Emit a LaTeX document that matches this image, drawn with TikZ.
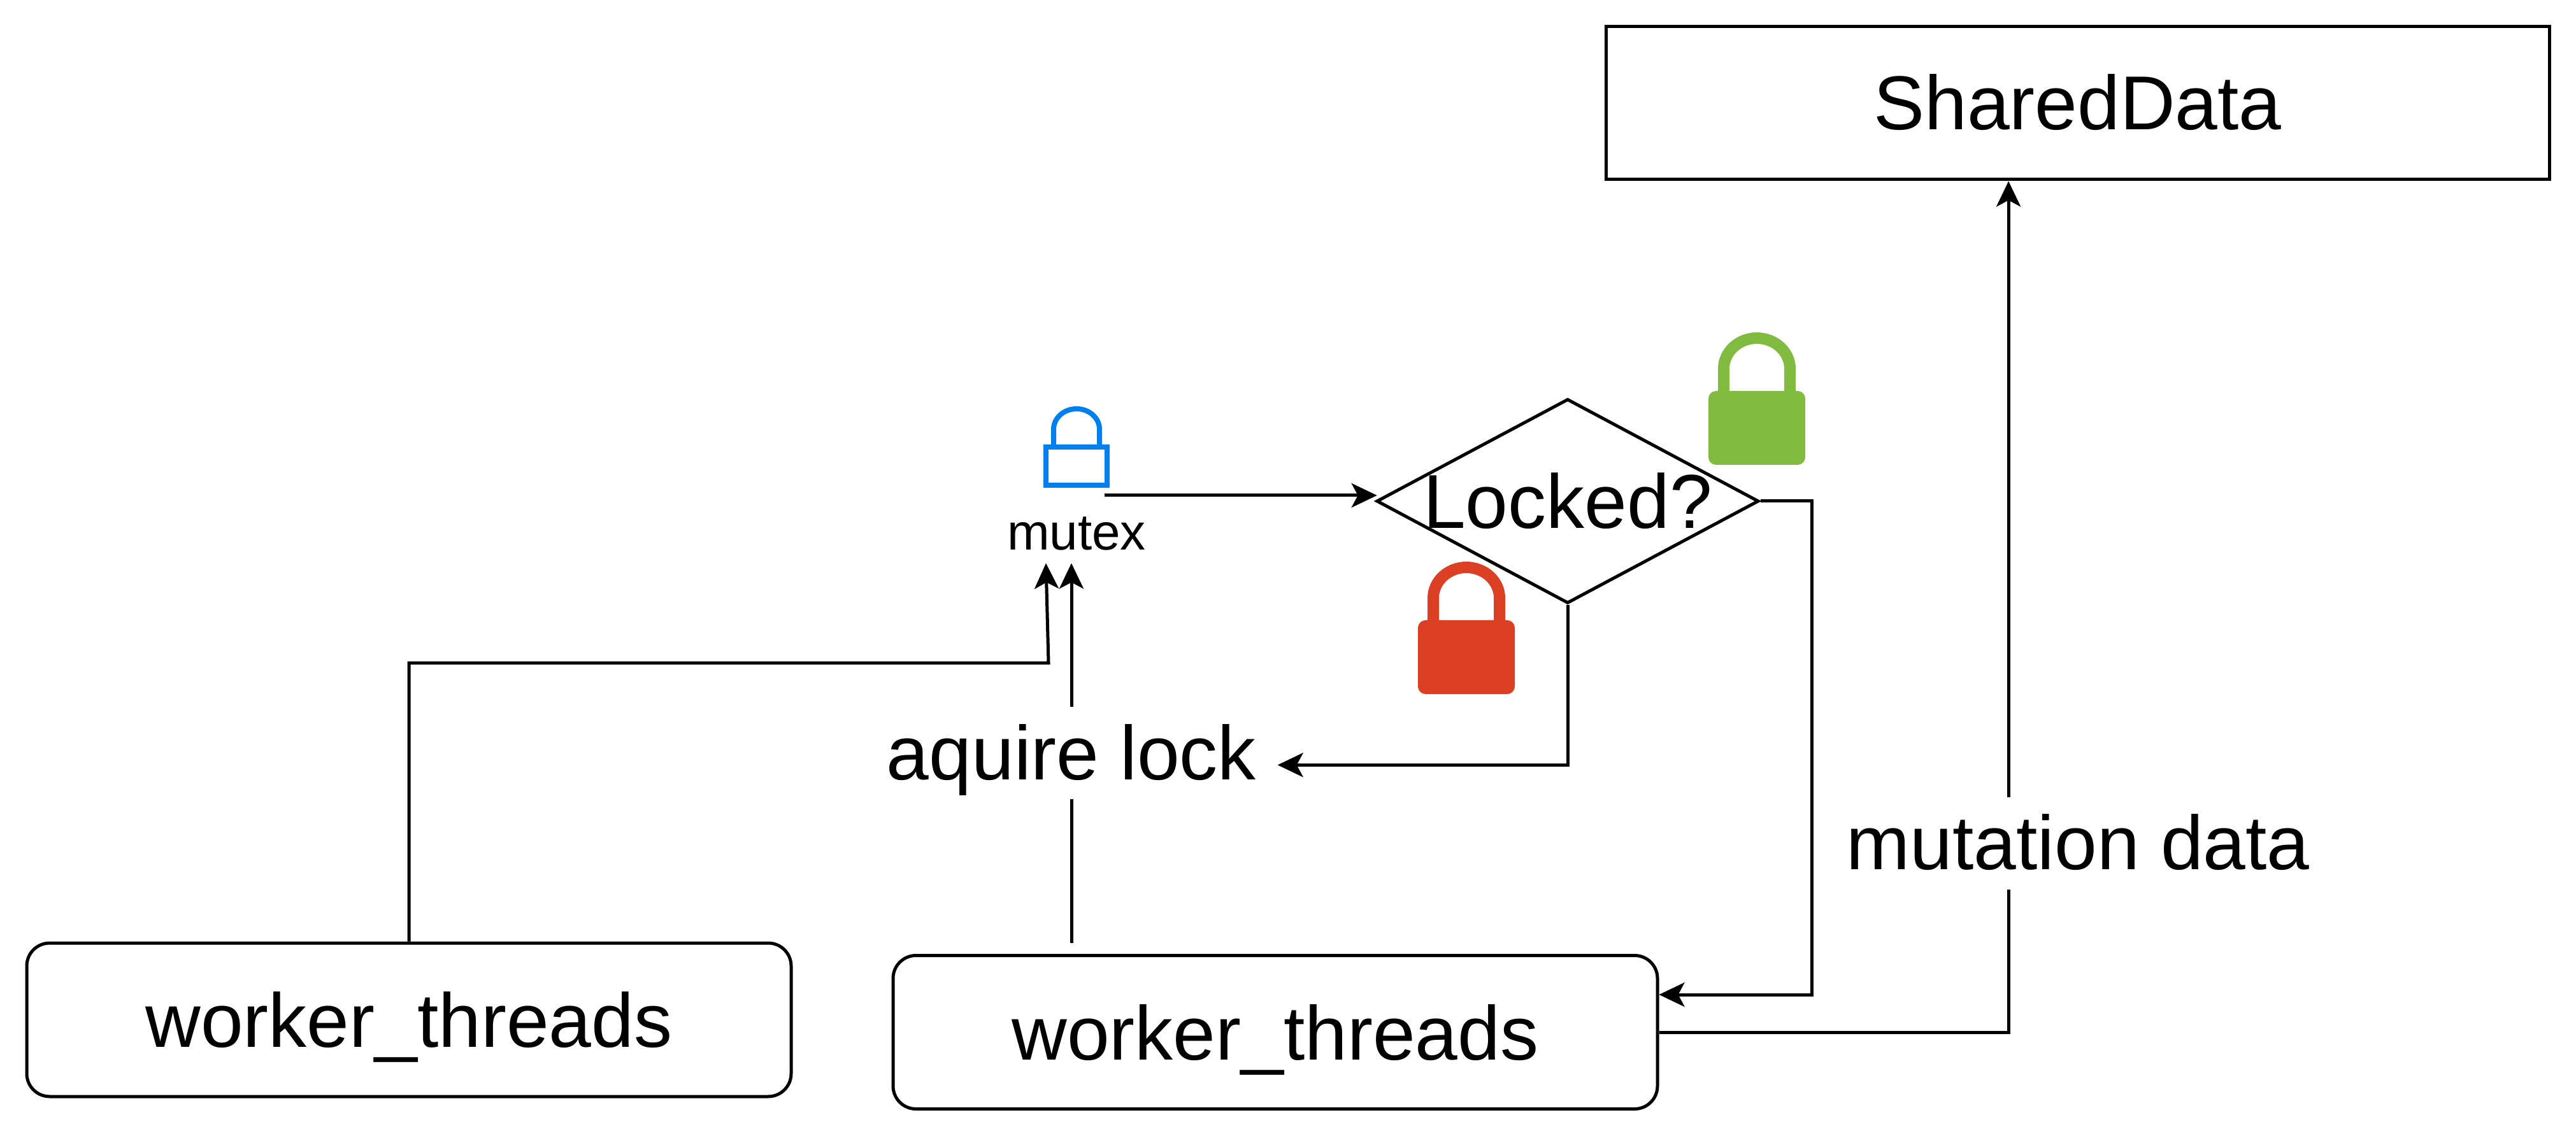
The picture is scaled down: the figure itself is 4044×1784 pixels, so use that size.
\documentclass[tikz,border=0pt]{standalone}
\usepackage{fontspec}
\setmainfont{Liberation Sans}
\usetikzlibrary{positioning,shapes.geometric,arrows.meta}

\definecolor{lockblue}{HTML}{0080F0}
\definecolor{lockgreen}{HTML}{81BC41}
\definecolor{lockred}{HTML}{DB4025}

\tikzset{
    databox/.style={draw=black, minimum width=370.25pt, minimum height=60pt, inner sep=0pt, text height=21pt, text depth=0pt},
    threadbox/.style={draw=black, rounded corners=9pt, minimum width=300pt, minimum height=60.25pt, inner sep=0pt, text height=21.5pt, text depth=0pt},
    decisionbox/.style={draw=black, diamond, minimum width=150pt, minimum height=80.25pt, inner sep=0pt},
    mutexlabel/.style={font=\fontsize{20}{24}\selectfont, inner xsep=0pt, inner ysep=4.5pt, text height=14.5pt, text depth=0pt},
    edgelabel/.style={fill=white, inner xsep=7.75pt, inner ysep=0pt, text height=28.5pt, text depth=7.8pt},
    solidlock/.pic={
        \fill[rounded corners=3pt] (-76,0) rectangle (76,116);
        \draw[line width=4.5pt] (-52,0) -- (-52,-35) .. controls (-52,-61.4) and (-28.6,-83) .. (0,-83) .. controls (28.6,-83) and (52,-61.4) .. (52,-35) -- (52,0);
    },
    openlock/.pic={
        \draw[line width=2pt] (-48,4) rectangle (48,64);
        \draw[line width=2pt] (-36,0) -- (-36,-24) .. controls (-36,-41.6) and (-19.8,-56) .. (0,-56) .. controls (19.8,-56) and (36,-41.6) .. (36,-24) -- (36,0);
    }
}

\begin{document}
\begin{tikzpicture}[
        x=0.25pt,
        y=-0.25pt,
        on grid,
        line width=1.25pt,
        >={Stealth[length=10pt, width=9.5pt, inset=2.5pt]},
        font=\fontsize{30}{36}\selectfont]

        \useasboundingbox (0,0) rectangle (4044,1784);

        % NODES
        % shared data
        \node[databox] (shared) at (3261.5,162) {SharedData};
        % decision
        \node[decisionbox, below left=156.25pt and 200.125pt of shared,
            label={[name=lockedtext, text height=21.5pt, text depth=0pt, inner sep=0pt]center:Locked?}] (decision) {};
        % mutex
        \node[mutexlabel, below left=12pt and 192.75pt of decision] (mutex) {mutex};
        % worker threads
        \node[threadbox, below left=208.5pt and 114.75pt of decision] (threadsB) {worker\_threads};
        \node[threadbox, above left=4.875pt and 340pt of threadsB] (threadsA) {worker\_threads};

        % free ends
        \coordinate (elbow) at (1646,1041);
        \coordinate (lockport) at (1734,778);
        \coordinate (threadsport) at (1682,1481);

        % LOCKS
        \pic[lockblue] at (1690,698) {openlock};
        \pic[lockgreen] at (2758,614) {solidlock};
        \pic[lockred] at (2302,974) {solidlock};

        % ARROWS
        \draw[->] (lockport) -- ([xshift=0.8pt,yshift=2.25pt]decision.west);
        \draw[->] (threadsA.north) |- (elbow) -- ([xshift=-12pt]mutex.south);
        \draw[->] (threadsport) -- node[edgelabel] (aquire) {aquire lock} ([xshift=-2pt]mutex.south);
        \draw[->] (decision.south) |- ([yshift=-4.65pt]aquire.east);
        \draw[->] (decision.east) -- ++(81,0) |- ([yshift=14.75pt]threadsB.east);
        \draw[->] (threadsB.east) -| node[edgelabel, pos=0.611, xshift=27.25pt] (mutation) {mutation data} ([xshift=-27.1pt]shared.south);
\end{tikzpicture}
\end{document}
